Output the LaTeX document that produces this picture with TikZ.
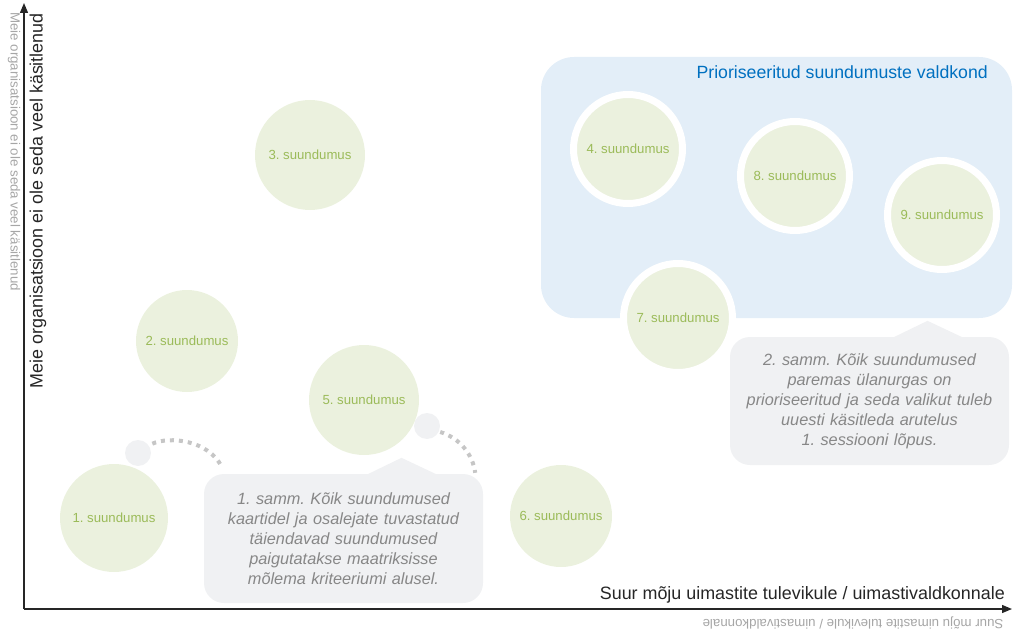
\documentclass[tikz,border=0pt]{standalone}
\usepackage{fontspec}
\setmainfont{Liberation Sans}
\usetikzlibrary{arrows.meta}
\frenchspacing
\definecolor{leafgreen}{HTML}{EBF1DE}
\definecolor{leaftext}{HTML}{9BBB59}
\definecolor{zoneblue}{HTML}{E3EEF8}
\definecolor{titleblue}{HTML}{0070C0}
\definecolor{notegray}{HTML}{F0F1F3}
\definecolor{notetext}{HTML}{878787}
\definecolor{dotgray}{HTML}{C6C6C6}
\definecolor{axisdark}{HTML}{262626}
\definecolor{ghost}{HTML}{A6A6A6}
\tikzset{
  trend/.style={circle,fill=leafgreen,text=leaftext,inner sep=0pt,font=\fontsize{13.2}{15}\selectfont},
  ringed/.style={trend,draw=white,line width=7pt,minimum size=109pt},
  note/.style={rounded corners=20pt,fill=notegray,text=notetext,align=center,minimum width=279pt,text width=275pt,inner sep=0pt,font=\fontsize{16.3}{20}\selectfont\itshape},
  bubble/.style={circle,fill=notegray,minimum size=26pt,inner sep=0pt},
  dotline/.style={dotgray,line width=4pt,dash pattern=on 4pt off 5pt},
  axisline/.style={axisdark,line width=1.3pt,-{Triangle[length=10pt,width=8pt]}},
}
\begin{document}
\begin{tikzpicture}[x=1pt,y=-1pt]
  \useasboundingbox (0,0) rectangle (1013,634);
  \fill[zoneblue,rounded corners=33pt] (541,57) rectangle (1012,318);
  \node[anchor=base east,text=titleblue,inner sep=0pt,font=\fontsize{17.7}{20}\selectfont] (zone) at (988,78) {Prioriseeritud suundumuste valdkond};
  \foreach \n/\x/\y/\d in {1/114/518/108, 2/187/341/102, 3/310/155/110, 5/364/400/110, 6/561/516/102}{%
    \node[trend,minimum size=\d pt] (t\n) at (\x,\y) {\n. suundumus};
  }
  \foreach \n/\x/\y in {4/628/149, 8/795/176, 9/942/215, 7/678/318}{%
    \node[ringed] (t\n) at (\x,\y) {\n. suundumus};
  }
  \node[note,minimum height=129pt] (call1) at (343.5,538.5) {1. samm. Kõik suundumused\\kaartidel ja osalejate tuvastatud\\täiendavad suundumused\\paigutatakse maatriksisse\\mõlema kriteeriumi alusel.};
  \node[note,minimum height=128pt] (call2) at (869.5,401) {2. samm. Kõik suundumused\\paremas ülanurgas on\\prioriseeritud ja seda valikut tuleb\\uuesti käsitleda arutelus\\1. sessiooni lõpus.};
  \foreach \c in {call1,call2}{%
    \fill[notegray] ([xshift=23pt,yshift=-1pt]\c.north) -- ([xshift=58pt,yshift=16pt]\c.north) -- ([xshift=94pt,yshift=-1pt]\c.north) -- cycle;
  }
  \node[bubble] (b1) at (138,453) {};
  \node[bubble] (b2) at (427,426) {};
  \draw[dotline] ([xshift=5pt]b1.north east) .. controls (170,436) and (208,440) .. ([xshift=18pt,yshift=7pt]call1.north west);
  \draw[dotline] ([yshift=-6pt]b2.east) .. controls (460,438) and (473,455) .. ([xshift=-8pt,yshift=1pt]call1.north east);
  \coordinate (O) at (24,609);
  \coordinate (ytop) at (24,3);
  \coordinate (xend) at (1012,609);
  \draw[axisline] (O) -- (ytop);
  \draw[axisline] (O) -- (xend);
  \node[rotate=90,anchor=east,inner sep=0pt,text=axisdark,font=\fontsize{17.9}{20}\selectfont] (ylab) at (38,13) {Meie organisatsioon ei ole seda veel käsitlenud};
  \node[rotate=-90,anchor=west,inner sep=0pt,text=ghost,font=\fontsize{13.3}{15}\selectfont] (yghost) at (14,12) {Meie organisatsioon ei ole seda veel käsitlenud};
  \node[anchor=base east,inner sep=0pt,text=axisdark,font=\fontsize{17.9}{20}\selectfont] (xlab) at (1005,599) {Suur mõju uimastite tulevikule / uimastivaldkonnale};
  \node[rotate=180,inner sep=0pt,text=ghost,font=\fontsize{13.3}{15}\selectfont] (xghost) at (853,623) {Suur mõju uimastite tulevikule / uimastivaldkonnale};
\end{tikzpicture}
\end{document}
